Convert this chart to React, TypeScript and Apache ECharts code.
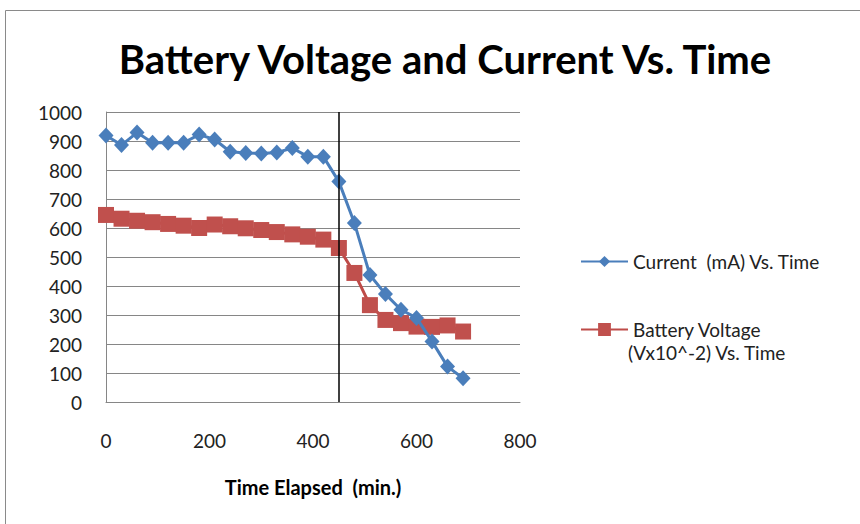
import React, { useEffect, useRef } from "react";
import * as echarts from "echarts";

const timeMin = [0, 30, 60, 90, 120, 150, 180, 210, 240, 270, 300, 330, 360, 390, 420, 450, 480, 510, 540, 570, 600, 630, 660, 690];
const currentMA = [919, 886, 929, 894, 894, 894, 922, 905, 863, 859, 857, 860, 876, 846, 846, 760, 617, 438, 372, 318, 290, 209, 122, 82];
const voltageX100 = [645, 632, 625, 620, 614, 608, 600, 612, 606, 599, 593, 586, 578, 570, 560, 531, 445, 334, 283, 272, 260, 259, 264, 243];
const xTicks = [0, 200, 400, 600, 800];
const yTicks = [0, 100, 200, 300, 400, 500, 600, 700, 800, 900, 1000];
const markerTime = 450;

const FONT = "Lato, 'Open Sans', sans-serif";

export default function App() {
  const ref = useRef<HTMLDivElement>(null);
  useEffect(() => {
    if (!ref.current) return;
    const chart = echarts.init(ref.current, undefined, { renderer: "svg" });
    const blue = "#4a7ebb";
    const red = "#be4b48";
    chart.setOption({
      animation: false,
      backgroundColor: "#ffffff",
      textStyle: { fontFamily: FONT },
      title: {
        text: "Battery Voltage and Current Vs. Time",
        left: 440,
        textAlign: "center",
        top: 34,
        textStyle: { fontFamily: FONT, fontSize: 40, fontWeight: "bold", color: "#000" },
      },
      graphic: [
        { type: "rect", shape: { x: 5.5, y: 10.5, width: 900, height: 600 }, style: { fill: "none", stroke: "#8a8a8a", lineWidth: 1 }, silent: true },
        { type: "text", left: 628, top: 343, style: { text: "(Vx10^-2) Vs. Time", font: `19px ${FONT}`, fill: "#222" } },
      ],
      legend: [
        {
          orient: "vertical",
          left: 575,
          top: 247,
          data: ["Current  (mA) Vs. Time"],
          itemWidth: 47,
          itemHeight: 14,
          textStyle: { fontFamily: FONT, fontSize: 19, color: "#222" },
        },
        {
          orient: "vertical",
          left: 575,
          top: 315,
          data: ["Battery Voltage"],
          itemWidth: 47,
          itemHeight: 16,
          textStyle: { fontFamily: FONT, fontSize: 19, color: "#222" },
        },
      ],
      grid: { left: 106, right: 340, top: 112, bottom: 122 },
      xAxis: {
        type: "value",
        min: xTicks[0],
        max: xTicks[xTicks.length - 1],
        interval: 200,
        name: "Time Elapsed  (min.)",
        nameLocation: "middle",
        nameGap: 75,
        nameTextStyle: { fontFamily: FONT, fontSize: 20, fontWeight: "bold", color: "#000" },
        axisLine: { show: true, lineStyle: { color: "#868686", width: 1 } },
        axisTick: { show: false },
        splitLine: { show: false },
        axisLabel: { fontFamily: FONT, fontSize: 19, color: "#222", margin: 29 },
      },
      yAxis: {
        type: "value",
        min: yTicks[0],
        max: yTicks[yTicks.length - 1],
        interval: 100,
        axisLine: { show: true, lineStyle: { color: "#868686", width: 1 } },
        axisTick: { show: false },
        splitLine: { show: true, lineStyle: { color: "#868686", width: 1 } },
        axisLabel: { fontFamily: FONT, fontSize: 19, color: "#222", margin: 24, formatter: (v: number) => String(v) },
      },
      series: [
        {
          name: "Current  (mA) Vs. Time",
          type: "line",
          data: timeMin.map((t, i) => [t, currentMA[i]]),
          symbol: "diamond",
          symbolSize: [15, 16],
          z: 3,
          lineStyle: { color: blue, width: 3 },
          itemStyle: { color: blue, borderWidth: 0 },
          markLine: {
            silent: true,
            symbol: "none",
            label: { show: false },
            lineStyle: { color: "#000", width: 1.5, type: "solid" },
            data: [{ xAxis: markerTime }],
          },
        },
        {
          name: "Battery Voltage",
          type: "line",
          data: timeMin.map((t, i) => [t, voltageX100[i]]),
          symbol: "rect",
          symbolSize: 16,
          z: 2,
          lineStyle: { color: red, width: 3 },
          itemStyle: { color: "#c0504d", borderWidth: 0 },
        },
      ],
    });
    return () => chart.dispose();
  }, []);
  return <div ref={ref} style={{ position: "absolute", left: 0, top: 0, width: 860, height: 524 }} />;
}
